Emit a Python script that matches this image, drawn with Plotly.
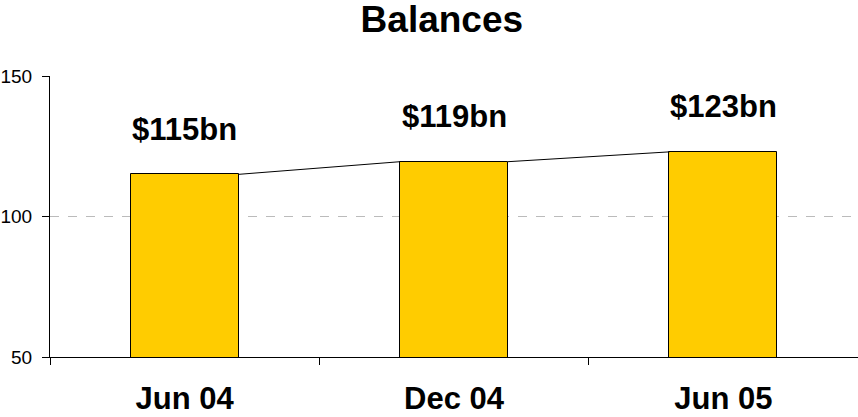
import plotly.graph_objects as go

categories = ["Jun 04", "Dec 04", "Jun 05"]
balances = [115, 119.5, 123]
labels = ["$115bn", "$119bn", "$123bn"]

xpos = list(range(len(categories)))
bar_width = 0.4
half = bar_width / 2

fig = go.Figure()
fig.add_trace(go.Bar(
    x=xpos, y=balances, width=bar_width,
    marker=dict(color="#FFCC00", line=dict(color="black", width=1)),
    showlegend=False, hoverinfo="skip",
))

# series lines connecting bar tops
for i in range(len(xpos) - 1):
    fig.add_trace(go.Scatter(
        x=[xpos[i] + half, xpos[i + 1] - half],
        y=[balances[i], balances[i + 1]],
        mode="lines", line=dict(color="black", width=1),
        showlegend=False, hoverinfo="skip",
    ))

for x, y, t in zip(xpos, balances, labels):
    fig.add_annotation(x=x, y=y, text="<b>%s</b>" % t, showarrow=False, yshift=45,
                       font=dict(family="Liberation Sans", size=31, color="black"))

fig.add_shape(type="line", xref="x domain", yref="y", x0=0, x1=1, y0=100, y1=100,
              line=dict(color="#BBBBBB", width=1, dash="dash"), layer="below")

fig.update_layout(
    width=858, height=417,
    margin=dict(l=50, r=0, t=76, b=60),
    paper_bgcolor="white", plot_bgcolor="white",
    font=dict(family="Liberation Sans", color="black"),
    title=dict(text="<b>Balances</b>", x=0.515, xanchor="center", y=0.955, yanchor="middle",
               font=dict(family="Liberation Sans", size=37, color="black")),
    bargap=0,
)
fig.update_xaxes(
    range=[-0.5, 2.5], tickmode="array", tickvals=xpos,
    ticktext=["<b>%s</b>" % c for c in categories],
    tickfont=dict(family="Liberation Sans", size=31, color="black"),
    ticks="", showgrid=False, zeroline=False, automargin=False,
    showline=True, linecolor="black", linewidth=1,
    minor=dict(tickmode="linear", tick0=-0.5, dtick=1, ticks="outside", ticklen=7,
               tickcolor="black", showgrid=False),
    ticklabelstandoff=14,
)
fig.update_yaxes(
    range=[50, 150], tickmode="array", tickvals=[50, 100, 150],
    tickfont=dict(family="Liberation Sans", size=19, color="black"),
    ticks="outside", ticklen=7, tickcolor="black", automargin=False,
    showgrid=False, zeroline=False, ticklabelstandoff=6,
    showline=True, linecolor="black", linewidth=1,
)

fig.write_html("out.html", config={"displayModeBar": False},
               post_script="document.body.style.margin='0';")
